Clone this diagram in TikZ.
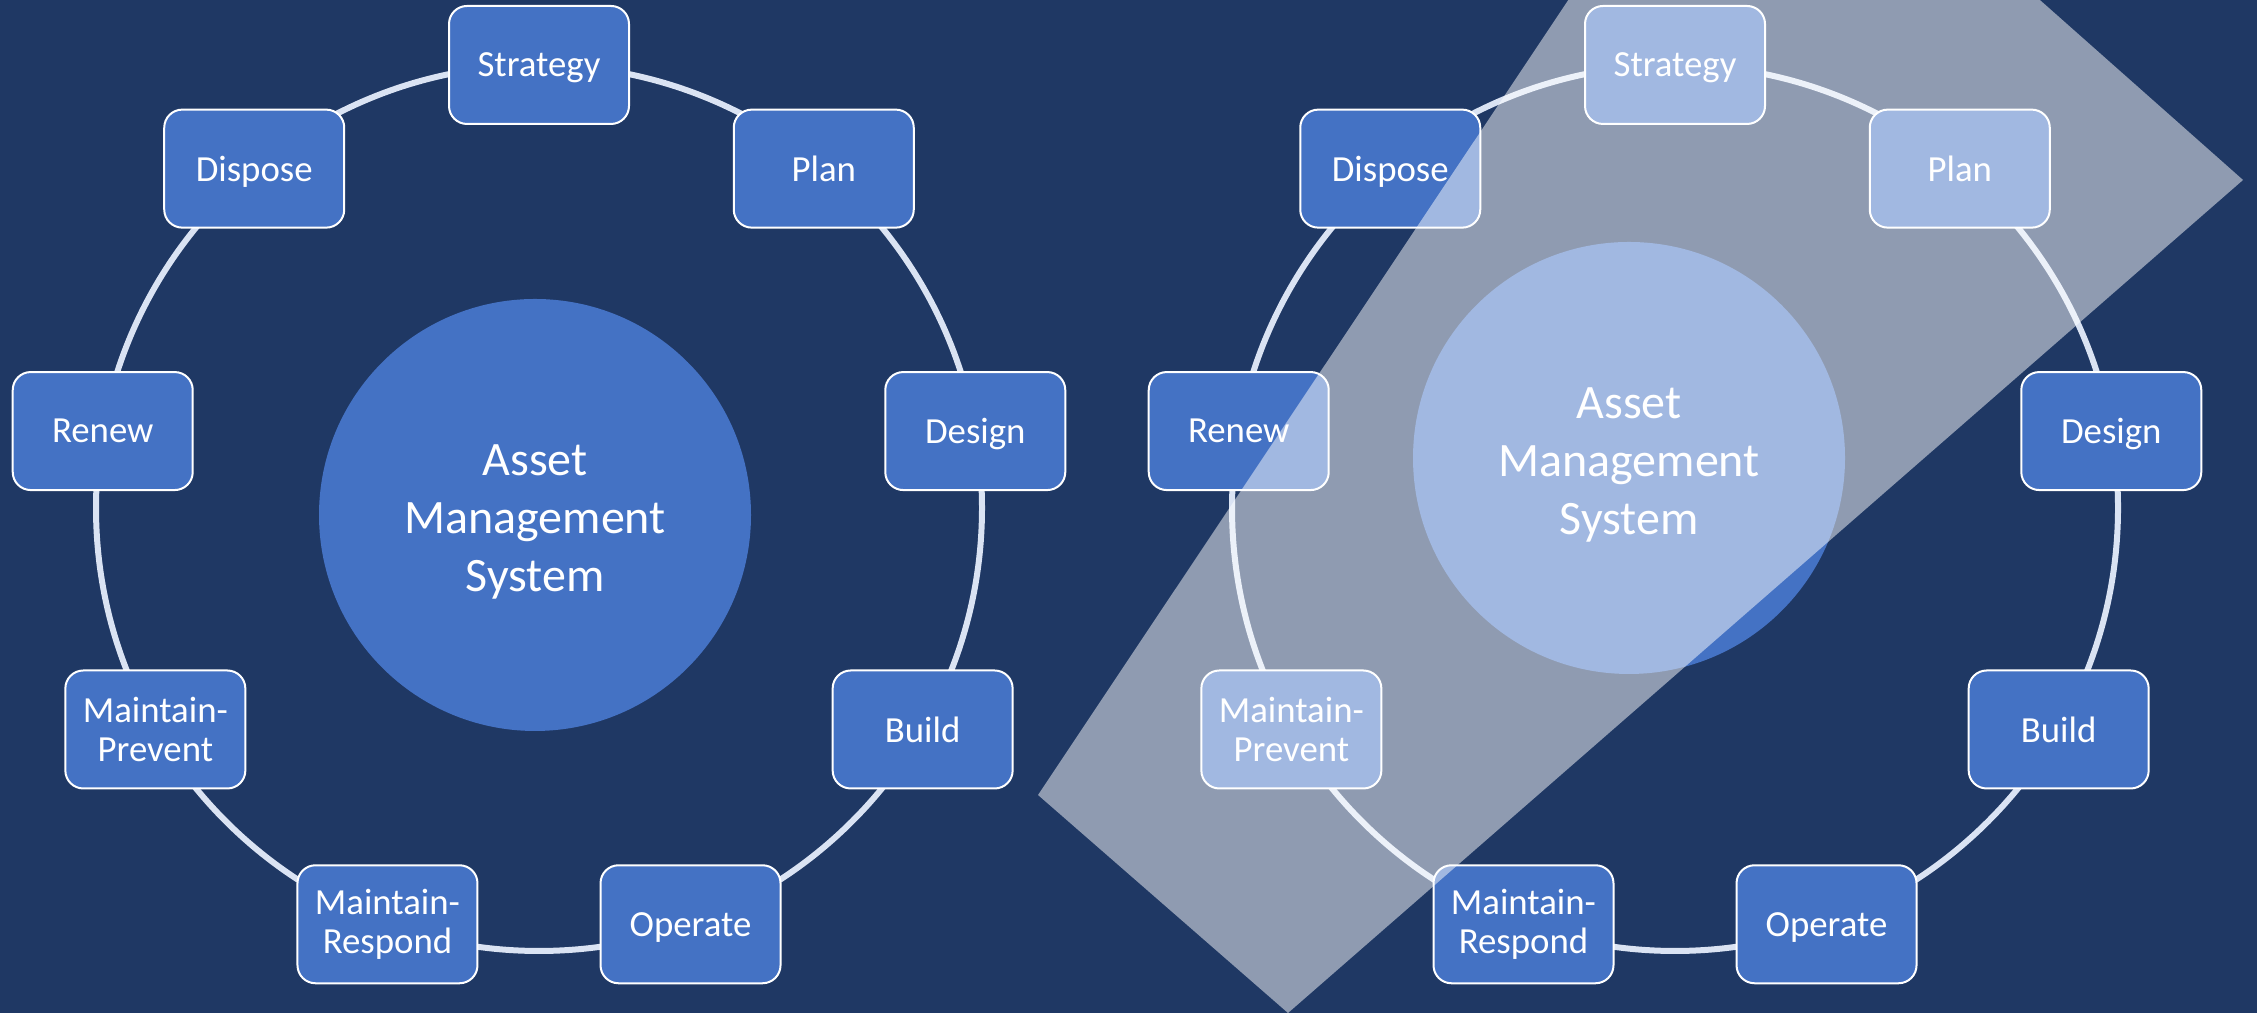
\documentclass[tikz,border=0pt]{standalone}
\usepackage{fontspec}
\setmainfont{Carlito}
\definecolor{bgnavy}{HTML}{1F3864}
\definecolor{stepblue}{HTML}{4472C4}
\definecolor{ringline}{HTML}{DAE3F3}
\begin{document}
\begin{tikzpicture}[x=0.25pt,y=0.25pt,
  phase/.style={draw=white, line width=0.5pt, fill=stepblue, rounded corners=4.5pt,
    minimum width=45pt, minimum height=29.5pt, inner sep=0pt, align=center,
    text=white, font=\fontsize{9.2pt}{9.9pt}\selectfont},
  oneline/.style={text depth=0pt},
  twoline/.style={},
  hubtext/.style={inner sep=0pt, align=center, text=white,
    font=\fontsize{12pt}{14.6pt}\selectfont},
  ring/.style={draw=ringline, line width=1.5pt},
  veil/.style={fill=white, fill opacity=0.5}]

% canvas
\fill[bgnavy] (0,0) rectangle (2257,1013);
\useasboundingbox (0,0) rectangle (2257,1013);

% two identical life-cycle wheels
\foreach \side/\cx/\hx/\hy in {L/539/535/498, R/1675/1629/555}{
  \begin{scope}[shift={(\cx,505)}]
    \coordinate (ring\side) at (0,0);
    \draw[ring] (ring\side) circle[radius=443];
    \foreach \ang/\nm/\kind/\txt in {90/s/oneline/Strategy, 50/p/oneline/Plan,
        10/d/oneline/Design, -30/b/oneline/Build, -70/o/oneline/Operate,
        -110/mr/twoline/{Maintain-\\Respond}, -150/mp/twoline/{Maintain-\\Prevent},
        170/r/oneline/Renew, 130/x/oneline/Dispose}{
      \node[phase, \kind] (\side\nm) at (\ang:443) {\txt};
    }
  \end{scope}
  % central hub disc and its caption
  \fill[stepblue] (\hx,\hy) circle[radius=216];
  \node[hubtext] (hub\side) at (\hx,\hy-7) {Asset\\Management\\System};
}

% translucent band across the right wheel
\begin{scope}
  \clip (0,0) rectangle (2257,1013);
  \fill[veil] (1038,218) -- (1288,0) -- (2243,833) -- (1927,1113) -- (1635,1113) -- cycle;
\end{scope}
\end{tikzpicture}
\end{document}
